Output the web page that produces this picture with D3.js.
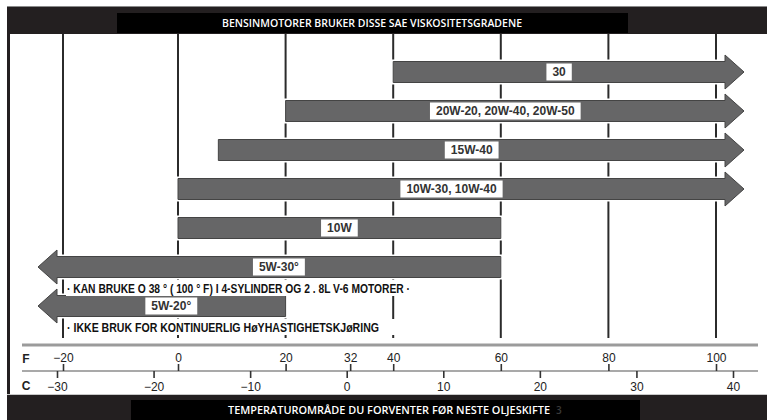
<!DOCTYPE html>
<html>
<head>
<meta charset="utf-8">
<script src="https://cdn.jsdelivr.net/npm/d3@7"></script>
<style>
  html, body { margin: 0; padding: 0; background: #fff; }
  svg { display: block; }
</style>
</head>
<body>
<svg id="chart" width="767" height="420"></svg>
<script>
// Viscosity grades and the outdoor temperature range (°F) each one covers.
// null means the range is open-ended in that direction (drawn as an arrow).
const grades   = ["30", "20W-20, 20W-40, 20W-50", "15W-40", "10W-30, 10W-40", "10W", "5W-30°", "5W-20°"];
const minTempF = [40, 20, 7.5, 0, 0, null, null];
const maxTempF = [null, null, null, null, 60, 60, 20];

// Footnotes printed under the two lightest grades
const noteGrades = ["5W-30°", "5W-20°"];
const noteTexts  = [
  "· KAN BRUKE O 38 ° ( 100 ° F) I 4-SYLINDER OG 2 . 8L V-6 MOTORER ·",
  "· IKKE BRUK FOR KONTINUERLIG HøYHASTIGHETSKJøRING"
];

// Temperature scales
const fTicks = [-20, 0, 20, 32, 40, 60, 80, 100];
const cTicks = [-30, -20, -10, 0, 10, 20, 30, 40];
const gridF  = [-20, 0, 20, 40, 60, 80, 100];

const title    = "BENSINMOTORER BRUKER DISSE SAE VISKOSITETSGRADENE";
const subtitle = "TEMPERATUROMRÅDE DU FORVENTER FØR NESTE OLJESKIFTE";

const svg = d3.select("#chart");
const W = 767, H = 420;

const fScale = d3.scaleLinear().domain([-20, 0, 100]).range([63, 178, 716]);
const cScale = d3.scaleLinear().domain([-30, 40]).range([57, 733]);
const yRow   = d3.scalePoint().domain(grades).range([72, 306]);

const arrowLeftTip = 38, arrowRightTip = 744, headLen = 19;
const barH = 21, headH = 34;

const dark = "#231f20";

// ---- frame -------------------------------------------------------------
svg.append("rect").attr("x", 7).attr("y", 6).attr("width", W - 7).attr("height", 28)
  .attr("fill", dark);
svg.append("line").attr("x1", 7).attr("x2", W).attr("y1", 6.5).attr("y2", 6.5)
  .attr("stroke", "#8a8a8a").attr("stroke-width", 1);
svg.append("rect").attr("x", 7).attr("y", 34).attr("width", 3).attr("height", 362)
  .attr("fill", dark);
svg.append("rect").attr("x", 7).attr("y", 395).attr("width", W - 7).attr("height", 25)
  .attr("fill", dark);
svg.append("line").attr("x1", 7).attr("x2", W).attr("y1", 394.5).attr("y2", 394.5)
  .attr("stroke", "#c8c8c8").attr("stroke-width", 1);

// title boxes
svg.append("rect").attr("x", 117).attr("y", 13).attr("width", 511).attr("height", 20).attr("fill", "#000");
svg.append("text").attr("x", 372).attr("y", 27).attr("text-anchor", "middle")
  .attr("fill", "#fff").attr("font-family", "'Open Sans', 'Noto Sans', sans-serif")
  .attr("font-weight", 600).attr("font-size", 10)
  .attr("textLength", 300).attr("lengthAdjust", "spacingAndGlyphs")
  .text(title);

svg.append("rect").attr("x", 131).attr("y", 400).attr("width", 509).attr("height", 20).attr("fill", "#000");
const sub = svg.append("text").attr("x", 228).attr("y", 414)
  .attr("font-family", "'Open Sans', 'Noto Sans', sans-serif")
  .attr("font-weight", 600).attr("font-size", 10);
sub.append("tspan").attr("fill", "#fff").attr("textLength", 322).attr("lengthAdjust", "spacingAndGlyphs").text(subtitle);
sub.append("tspan").attr("fill", "#3a3a3a").attr("dx", 6).text("3");

// ---- vertical grid ------------------------------------------------------
svg.append("g").selectAll("line").data(gridF).join("line")
  .attr("x1", d => fScale(d)).attr("x2", d => fScale(d))
  .attr("y1", 34).attr("y2", 338)
  .attr("stroke", "#2b2b2b").attr("stroke-width", 2);

// ---- bars -----------------------------------------------------------------
const bars = grades.map((g, i) => {
  const openLeft = minTempF[i] === null, openRight = maxTempF[i] === null;
  const x0 = openLeft ? arrowLeftTip + headLen : fScale(minTempF[i]);
  const x1 = openRight ? arrowRightTip - headLen : fScale(maxTempF[i]);
  return { grade: g, y: yRow(g), x0, x1, openLeft, openRight };
});

function barPath(d) {
  const y = d.y, h = barH / 2, hh = headH / 2;
  const p = d3.path();
  p.moveTo(d.x0, y - h);
  p.lineTo(d.x1, y - h);
  if (d.openRight) {
    p.lineTo(d.x1, y - hh);
    p.lineTo(arrowRightTip, y);
    p.lineTo(d.x1, y + hh);
  }
  p.lineTo(d.x1, y + h);
  p.lineTo(d.x0, y + h);
  if (d.openLeft) {
    p.lineTo(d.x0, y + hh);
    p.lineTo(arrowLeftTip, y);
    p.lineTo(d.x0, y - hh);
  }
  p.closePath();
  return p.toString();
}

const barG = svg.append("g");
// white halo so the grid lines stop just short of each bar
barG.selectAll("path.halo").data(bars).join("path").attr("class", "halo")
  .attr("d", barPath).attr("fill", "#fff").attr("stroke", "#fff").attr("stroke-width", 4)
  .attr("stroke-linejoin", "miter");
barG.selectAll("path.bar").data(bars).join("path").attr("class", "bar")
  .attr("d", barPath).attr("fill", "#666667").attr("stroke", "#444").attr("stroke-width", 1)
  .attr("stroke-linejoin", "miter");

// grade labels in white boxes
const lab = svg.append("g").selectAll("g").data(bars).join("g")
  .attr("transform", d => `translate(${(d.x0 + d.x1) / 2},${d.y})`);
const labText = lab.append("text")
  .attr("text-anchor", "middle").attr("dy", "0.36em")
  .attr("font-family", "'Liberation Sans', Arial, sans-serif")
  .attr("font-weight", "bold").attr("font-size", 12).attr("fill", "#333")
  .text(d => d.grade);
labText.each(function (d) { d.tw = this.getComputedTextLength(); });
lab.insert("rect", "text")
  .attr("x", d => -d.tw / 2 - 6).attr("width", d => d.tw + 12)
  .attr("y", -8.5).attr("height", 17).attr("fill", "#fff");

// ---- footnotes -----------------------------------------------------------
const noteWidths = [343, 312];
const notes = svg.append("g").selectAll("g").data(noteTexts).join("g")
  .attr("transform", (d, i) => `translate(67,${yRow(noteGrades[i]) + 21})`);
notes.append("rect").attr("x", -1).attr("y", -8).attr("height", 16)
  .attr("width", (d, i) => noteWidths[i] + (i === 1 ? 18 : 4)).attr("fill", "#fff");
notes.append("text").attr("dy", "0.36em")
  .attr("font-family", "'Liberation Sans Narrow', 'Arial Narrow', 'Liberation Sans', sans-serif")
  .attr("font-weight", "bold").attr("font-size", 12.5).attr("fill", "#111")
  .attr("textLength", (d, i) => noteWidths[i]).attr("lengthAdjust", "spacingAndGlyphs")
  .text(d => d);

// ---- temperature axes -------------------------------------------------------
svg.append("line").attr("x1", 22).attr("x2", 758).attr("y1", 345).attr("y2", 345)
  .attr("stroke", "#9b9b9b").attr("stroke-width", 3);
svg.append("line").attr("x1", 22).attr("x2", 758).attr("y1", 371).attr("y2", 371)
  .attr("stroke", "#555").attr("stroke-width", 1.2);

const axisFont = g => {
  g.select(".domain").remove();
  g.selectAll("text").attr("font-family", "'Liberation Sans', Arial, sans-serif")
    .attr("font-size", 12).attr("fill", "#222");
  g.selectAll(".tick line").attr("stroke", "#333").attr("stroke-width", 1.6);
};

svg.append("g").attr("transform", "translate(0,371)")
  .call(d3.axisTop(fScale).tickValues(fTicks).tickSize(7).tickPadding(2).tickFormat(d3.format("d")))
  .call(axisFont);
svg.append("g").attr("transform", "translate(0,371)")
  .call(d3.axisBottom(cScale).tickValues(cTicks).tickSize(7).tickPadding(4).tickFormat(d3.format("d")))
  .call(axisFont);

svg.append("text").attr("x", 26).attr("y", 363).attr("text-anchor", "middle")
  .attr("font-family", "'Liberation Sans', Arial, sans-serif").attr("font-weight", "bold")
  .attr("font-size", 12).attr("fill", "#222").text("F");
svg.append("text").attr("x", 26).attr("y", 390).attr("text-anchor", "middle")
  .attr("font-family", "'Liberation Sans', Arial, sans-serif").attr("font-weight", "bold")
  .attr("font-size", 12).attr("fill", "#222").text("C");
</script>
</body>
</html>
